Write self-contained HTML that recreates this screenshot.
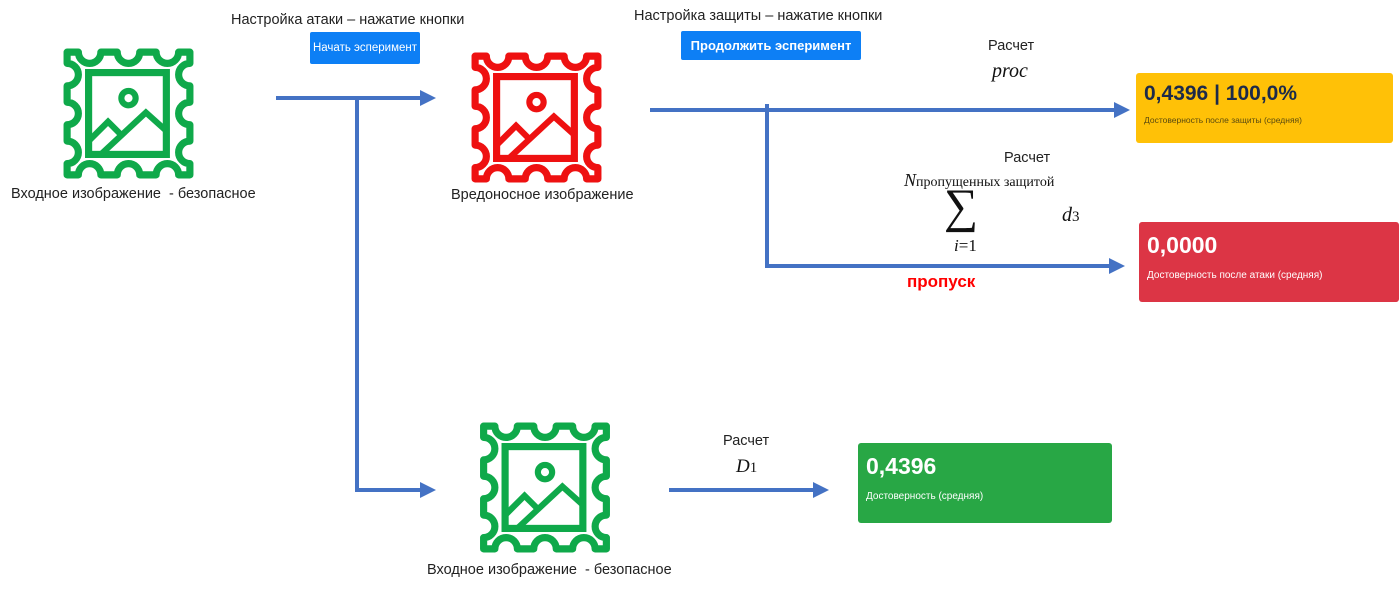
<!DOCTYPE html>
<html><head><meta charset="utf-8"><style>
body{margin:0;background:#fff;width:1399px;height:590px;overflow:hidden;position:relative;font-family:"Liberation Sans",sans-serif}
.t{position:absolute;font-size:14.5px;color:#222;white-space:nowrap}
.m{position:absolute;font-family:"Liberation Serif","DejaVu Serif",serif;font-style:italic;white-space:nowrap;color:#111}
.btn{position:absolute;background:#0d7ff5;color:#fff;font-size:12px;display:flex;align-items:center;justify-content:center;border-radius:2px}
.card{position:absolute;border-radius:3px}
.card b{position:absolute;left:8px;font-size:23px}
.card span{position:absolute;left:8px;font-size:10px}
</style></head><body>
<svg width="1399" height="590" style="position:absolute;left:0;top:0">
<defs>
<symbol id="st" viewBox="0 0 130 130">
<path d="M5 5 L16 5 A11 11 0 0 0 38 5 L54 5 A11 11 0 0 0 76 5 L92 5 A11 11 0 0 0 114 5 L125 5 L125 16 A11 11 0 0 0 125 38 L125 54 A11 11 0 0 0 125 76 L125 92 A11 11 0 0 0 125 114 L125 125 L114 125 A11 11 0 0 0 92 125 L76 125 A11 11 0 0 0 54 125 L38 125 A11 11 0 0 0 16 125 L5 125 L5 114 A11 11 0 0 0 5 92 L5 76 A11 11 0 0 0 5 54 L5 38 A11 11 0 0 0 5 16 Z" fill="none" stroke="currentColor" stroke-width="7" stroke-linejoin="round"/>
<rect x="26" y="25" width="76" height="80" fill="none" stroke="currentColor" stroke-width="7"/>
<circle cx="65" cy="50" r="7" fill="none" stroke="currentColor" stroke-width="6"/>
<polyline points="26,92 45,73 60,88" fill="none" stroke="currentColor" stroke-width="6"/>
<polyline points="38,105 82,64 102,82" fill="none" stroke="currentColor" stroke-width="6"/>
</symbol>
<marker id="a" markerWidth="4" markerHeight="4" refX="3" refY="2" orient="auto" markerUnits="strokeWidth"><path d="M0 0 L4 2 L0 4 Z" fill="#4472C4"/></marker>
</defs>
<use href="#st" x="62" y="47" width="133" height="133" style="color:#0fa94a"/>
<use href="#st" x="469" y="51" width="135" height="133" style="color:#ee1111"/>
<use href="#st" x="478" y="421" width="134" height="133" style="color:#0fa94a"/>
<g stroke="#4472C4" stroke-width="4" fill="none">
<line x1="276" y1="98" x2="432" y2="98" marker-end="url(#a)"/>
<polyline points="357,98 357,490 432,490" marker-end="url(#a)"/>
<line x1="650" y1="110" x2="1126" y2="110" marker-end="url(#a)"/>
<polyline points="767,104 767,266 1121,266" marker-end="url(#a)"/>
<line x1="669" y1="490" x2="825" y2="490" marker-end="url(#a)"/>
</g>
</svg>
<div class="t" style="left:231px;top:12px">Настройка атаки – нажатие кнопки</div>
<div class="btn" style="left:310px;top:32px;width:110px;height:32px;font-size:11.5px">Начать эсперимент</div>
<div class="t" style="left:634px;top:8px">Настройка защиты – нажатие кнопки</div>
<div class="btn" style="left:681px;top:31px;width:180px;height:29px;font-size:13px;font-weight:bold">Продолжить эсперимент</div>
<div class="t" style="left:11px;top:186px">Входное изображение&nbsp; - безопасное</div>
<div class="t" style="left:451px;top:187px">Вредоносное изображение</div>
<div class="t" style="left:427px;top:562px">Входное изображение&nbsp; - безопасное</div>
<div class="t" style="left:988px;top:38px">Расчет</div>
<div class="m" style="left:992px;top:60px;font-size:20px">proc</div>
<div class="t" style="left:1004px;top:150px">Расчет</div>
<div class="m" style="left:904px;top:170px;font-size:18px">N<span style="font-style:normal;font-size:14px">пропущенных защитой</span></div>
<div class="m" style="left:944px;top:182px;font-size:48px;font-style:normal;line-height:50px">∑</div>
<div class="m" style="left:954px;top:236px;font-size:17px">i<span style="font-style:normal">=1</span></div>
<div class="m" style="left:1062px;top:204px;font-size:20px">d<span style="font-style:normal;font-size:15px">3</span></div>
<div style="position:absolute;left:907px;top:272px;color:#f00;font-weight:bold;font-size:17px">пропуск</div>
<div class="t" style="left:723px;top:433px">Расчет</div>
<div class="m" style="left:736px;top:456px;font-size:19px">D<span style="font-style:normal;font-size:15px">1</span></div>
<div class="card" style="left:1136px;top:73px;width:257px;height:70px;background:#ffc107;color:#1c2a4a"><b style="top:9px;font-size:21px">0,4396 | 100,0%</b><span style="top:42px;font-size:8.5px;color:#5a4a10">Достоверность после защиты (средняя)</span></div>
<div class="card" style="left:1139px;top:222px;width:260px;height:80px;background:#dc3545;color:#fff"><b style="top:10px">0,0000</b><span style="top:48px">Достоверность после атаки (средняя)</span></div>
<div class="card" style="left:858px;top:443px;width:254px;height:80px;background:#28a745;color:#fff"><b style="top:10px">0,4396</b><span style="top:48px">Достоверность (средняя)</span></div>
</body></html>
